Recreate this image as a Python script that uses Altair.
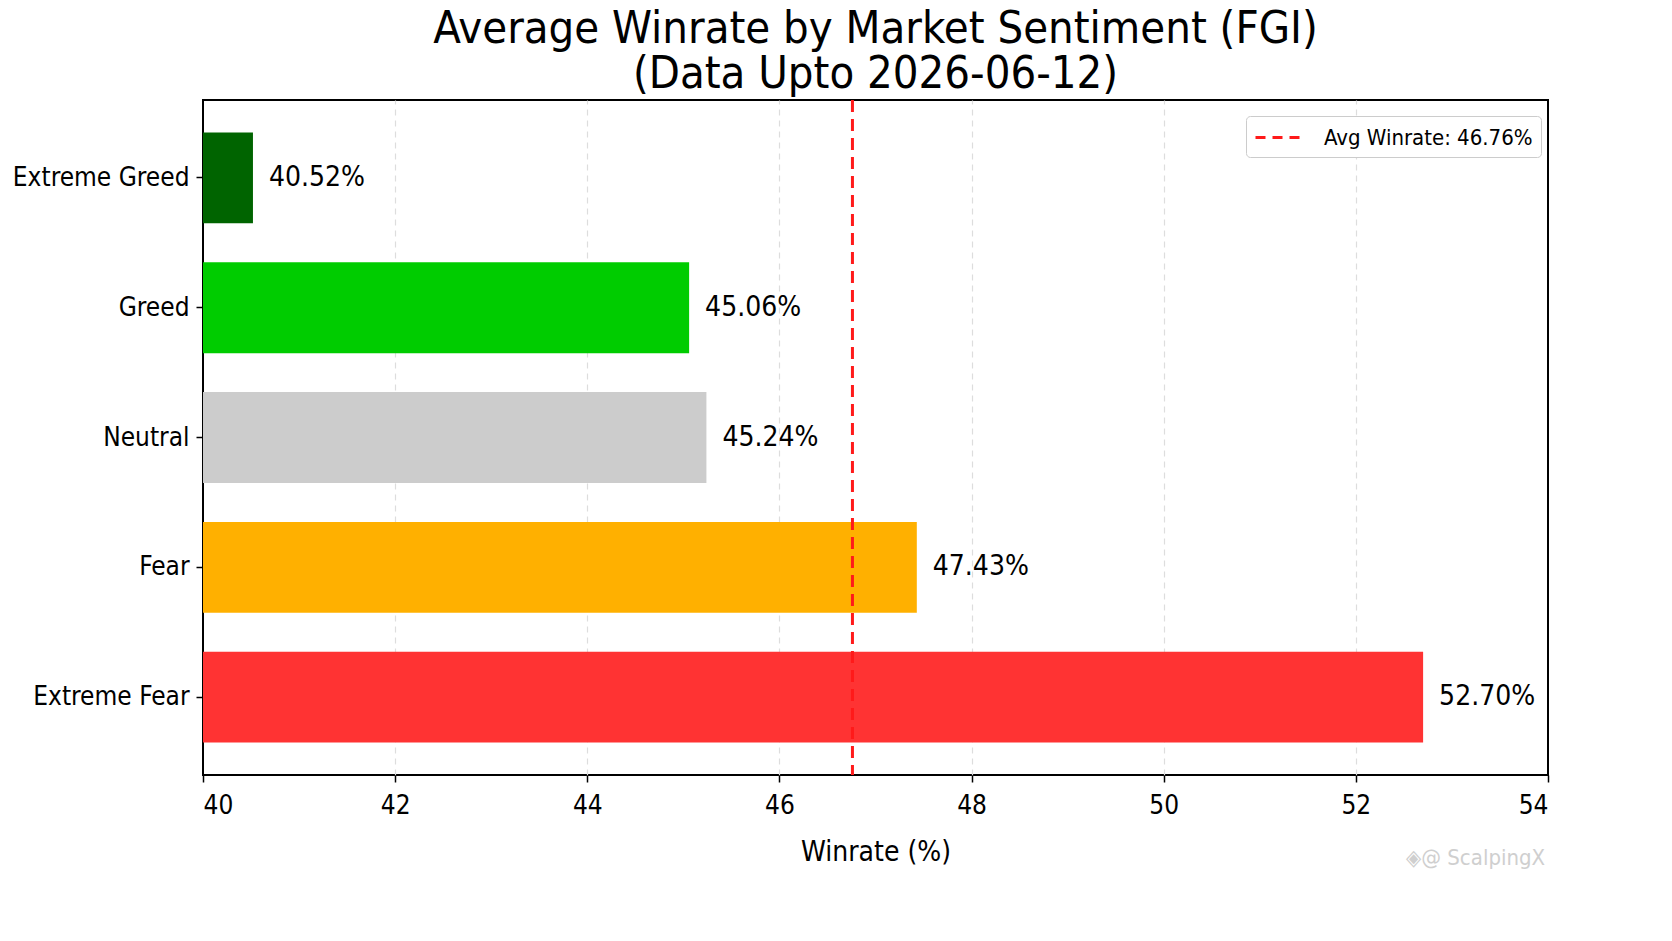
import altair as alt
import pandas as pd

categories = ["Extreme Greed", "Greed", "Neutral", "Fear", "Extreme Fear"]
winrates = [40.52, 45.06, 45.24, 47.43, 52.70]
colors = ["#006400", "#00CC00", "#CCCCCC", "#FFB000", "#FF3333"]
avg_winrate = 46.76
x_ticks = [40, 42, 44, 46, 48, 50, 52, 54]

FONT = "DejaVu Sans Condensed"

df = pd.DataFrame({
    "Sentiment": categories,
    "Winrate": winrates,
    "Color": colors,
    "Label": [f"{v:.2f}%" for v in winrates],
})
avg_df = pd.DataFrame({"Avg": [avg_winrate], "Name": [f"Avg Winrate: {avg_winrate:.2f}%"]})

x_scale = alt.Scale(domain=[40, 54], nice=False, zero=False, clamp=False)
y_scale = alt.Scale(domain=categories, paddingInner=0.3, paddingOuter=0.25)

base = alt.Chart(df)

bars = base.mark_bar(clip=True).encode(
    y=alt.Y("Sentiment:N", scale=y_scale, sort=categories,
            axis=alt.Axis(title=None, labelFontSize=26, labelFont=FONT, labelColor="black",
                          labelLimit=0,
                          tickSize=7, tickColor="black", tickWidth=1.5, labelPadding=7,
                          domain=False, grid=False)),
    x=alt.X("Winrate:Q", scale=x_scale,
            axis=alt.Axis(title="Winrate (%)", values=x_ticks, format="d",
                          labelFontSize=26, labelFont=FONT, labelColor="black",
                          titleFontSize=28, titleFont=FONT, titleFontWeight="normal",
                          titleColor="black", titlePadding=20,
                          tickSize=7, tickColor="black", tickWidth=1.5, labelPadding=10,
                          domain=False, grid=True, gridColor="#DDDDDD",
                          gridOpacity={"condition": {"test": "datum.value <= 40 || datum.value >= 54",
                                                     "value": 0}, "value": 1},
                          gridDash=[6, 5], gridWidth=1.2)),
    x2=alt.datum(40),
    color=alt.Color("Color:N", scale=None),
)

labels = base.mark_text(align="left", baseline="middle", dx=16, fontSize=28,
                        font=FONT, color="black").encode(
    y=alt.Y("Sentiment:N", scale=y_scale, sort=categories),
    x=alt.X("Winrate:Q", scale=x_scale),
    text="Label:N",
)

avg_rule = alt.Chart(avg_df).mark_rule(strokeDash=[12, 7], strokeWidth=3).encode(
    x=alt.X("Avg:Q", scale=x_scale),
    color=alt.Color("Name:N", scale=alt.Scale(range=["#FF1A1A"]),
                    legend=alt.Legend(title=None, orient="none", legendX=1043, legendY=16,
                                      labelFontSize=22, labelFont=FONT, labelColor="black",
                                      labelLimit=0,
                                      symbolType="M-1,0H3", symbolSize=576,
                                      symbolStrokeWidth=3, symbolDash=[10, 7],
                                      labelOffset=43, padding=8,
                                      fillColor="white", strokeColor="#CCCCCC",
                                      cornerRadius=4)),
)

watermark = alt.Chart(avg_df).mark_text(align="left", baseline="middle", fontSize=22,
                                        font=FONT, color="#CFCFCF").encode(
    x=alt.value(1203), y=alt.value(758), text=alt.value("◈@ ScalpingX"),
)

chart = alt.layer(bars, labels, avg_rule, watermark).properties(
    width=1345,
    height=675,
    background="white",
    title=alt.Title("Average Winrate by Market Sentiment (FGI)",
                    subtitle="(Data Upto 2026-06-12)",
                    fontSize=45, font=FONT, fontWeight="normal", color="black",
                    subtitleFontSize=45, subtitleFont=FONT, subtitleColor="black",
                    subtitlePadding=0, subtitleLineHeight=45,
                    anchor="middle", offset=2),
    autosize=alt.AutoSizeParams(type="none"),
    padding={"left": 195, "top": 92, "right": 116, "bottom": 158},
).configure_view(stroke="black", strokeWidth=2)

chart.save("out.html", embed_options={"renderer": "svg", "actions": False})
